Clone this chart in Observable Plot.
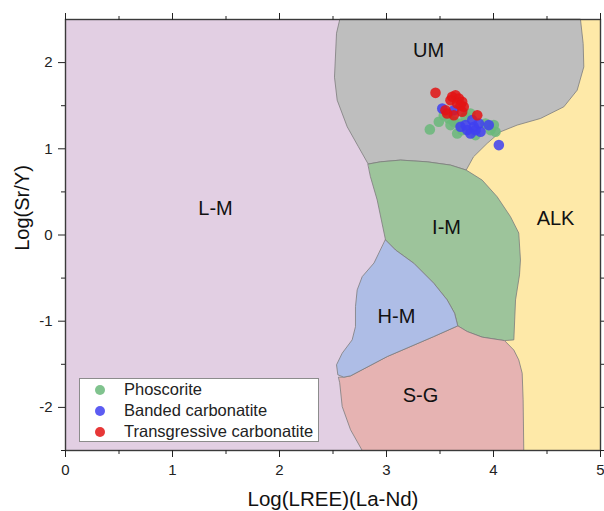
<!DOCTYPE html>
<html><head><meta charset="utf-8">
<script src="https://cdn.jsdelivr.net/npm/d3@7"></script>
<script src="https://cdn.jsdelivr.net/npm/@observablehq/plot@0.6"></script>
<style>
body{margin:0;background:#fff;font-family:"Liberation Sans",Arial,sans-serif;}
#wrap{position:relative;width:604px;height:511px;overflow:hidden;}
#legend{position:absolute;left:79px;top:378px;width:238px;height:62px;border:1px solid #8c8c8c;background:#fff;}
.row{height:21px;display:flex;align-items:center;font-size:16.5px;color:#222;white-space:nowrap;}
.dot{width:10px;height:10px;border-radius:50%;margin-left:15px;margin-right:19px;flex:none;}
</style></head><body><div id="wrap"></div>
<script>
// ---- tick values ----
const xTicks = [0, 1, 2, 3, 4, 5];
const xMinor = [0.5, 1.5, 2.5, 3.5, 4.5];
const yTicks = [-2, -1, 0, 1, 2];
const yMinor = [-2.5, -1.5, -0.5, 0.5, 1.5];

// ---- region boundaries (data units: Log(LREE), Log(Sr/Y)) ----
const umBoundary = [
  [2.563,2.5],[2.533,2.341],[2.514,1.831],[2.539,1.564],[2.633,1.255],[2.738,1.023],[2.829,0.823],
  [2.944,0.849],[3.131,0.869],[3.380,0.849],[3.598,0.811],[3.745,0.753],
  [3.813,0.907],[3.941,1.063],[4.065,1.197],[4.221,1.275],[4.439,1.352],[4.657,1.487],
  [4.782,1.680],[4.844,1.950],[4.838,2.221],[4.813,2.5]
];
const imBoundary = [
  [2.829,0.823],[2.944,0.849],[3.131,0.869],[3.380,0.849],[3.598,0.811],[3.745,0.753],
  [3.894,0.637],[4.034,0.444],[4.159,0.212],[4.236,0.023],[4.252,-0.290],[4.243,-0.463],
  [4.206,-0.753],[4.190,-1.217],[4.103,-1.225],[3.894,-1.185],[3.754,-1.120],[3.666,-1.054],
  [3.636,-0.907],[3.567,-0.753],[3.442,-0.560],[3.255,-0.328],[3.084,-0.174],[2.991,-0.058],
  [2.913,0.406],[2.850,0.676]
];
const hmBoundary = [
  [2.991,-0.058],[3.084,-0.174],[3.255,-0.328],[3.442,-0.560],[3.567,-0.753],[3.636,-0.907],
  [3.666,-1.054],[3.442,-1.178],[3.007,-1.410],[2.664,-1.634],[2.601,-1.649],[2.545,-1.622],
  [2.533,-1.506],[2.586,-1.371],[2.679,-1.217],[2.710,-1.063],[2.710,-0.831],[2.726,-0.637],
  [2.773,-0.483],[2.881,-0.328]
];
const sgBoundary = [
  [2.554,-1.649],[2.601,-1.649],[2.664,-1.634],[3.007,-1.410],[3.442,-1.178],[3.666,-1.054],
  [3.754,-1.120],[3.894,-1.185],[4.103,-1.225],[4.190,-1.335],[4.236,-1.449],[4.268,-1.603],
  [4.277,-1.912],[4.283,-2.5],[2.773,-2.5],[2.664,-2.260],[2.586,-1.990],[2.563,-1.718]
];
const alkUnderlay = [
  [4.0,2.5],[5,2.5],[5,-2.5],[4.1,-2.5],[4.1,-1.2],[3.8,0.6],[3.745,0.753]
];

// ---- region labels ----
const regionNames = ["UM", "L-M", "I-M", "ALK", "H-M", "S-G"];
const regionX = [3.393, 1.402, 3.561, 4.580, 3.093, 3.318];
const regionY = [2.144, 0.301, 0.081, 0.195, -0.950, -1.866];

// ---- samples ----
const phoscorite = [
  [3.405,1.225],[3.489,1.313],[3.536,1.390],[3.582,1.352],[3.629,1.313],[3.676,1.294],
  [3.661,1.178],[3.785,1.410],[3.738,1.371],[3.925,1.294],[3.972,1.217],[4.019,1.197],
  [4.003,1.275],[3.832,1.159],[3.598,1.275],[3.707,1.217]
];
const banded = [
  [3.521,1.468],[3.629,1.448],[3.692,1.255],[3.754,1.217],[3.785,1.178],[3.816,1.255],
  [3.801,1.333],[3.863,1.294],[3.879,1.197],[3.956,1.275],[3.832,1.217],[3.738,1.275],
  [4.050,1.043]
];
const transgressive = [
  [3.458,1.649],[3.614,1.603],[3.645,1.622],[3.676,1.584],[3.598,1.564],[3.707,1.545],
  [3.661,1.526],[3.722,1.487],[3.692,1.506],[3.551,1.448],[3.629,1.390],[3.707,1.429],
  [3.848,1.390],[3.567,1.410]
];
const seriesNames = ["Phoscorite", "Banded carbonatite", "Transgressive carbonatite"];
const seriesColors = ["#6ab87a", "#4040f0", "#e31414"];
const seriesData = [phoscorite, banded, transgressive];

const px = d => d[0], py = d => d[1];
const edge = "#7c7c7c";

const plot = Plot.plot({
  width: 604, height: 511,
  marginLeft: 65, marginRight: 4, marginTop: 19, marginBottom: 61,
  style: {fontFamily: '"Liberation Sans", Arial, sans-serif', color: "#222", background: "transparent"},
  x: {domain: [0, 5]},
  y: {domain: [-2.5, 2.5]},
  marks: [
    Plot.frame({fill: "#e2cfe3", stroke: "none"}),
    Plot.line(alkUnderlay, {x: px, y: py, fill: "#fee9a8", stroke: "none", curve: "linear-closed"}),
    Plot.line(umBoundary, {x: px, y: py, fill: "#bebebe", stroke: edge, strokeWidth: 0.8, curve: "linear-closed"}),
    Plot.line(imBoundary, {x: px, y: py, fill: "#9dc49b", stroke: edge, strokeWidth: 0.8, curve: "linear-closed"}),
    Plot.line(sgBoundary, {x: px, y: py, fill: "#e6b3b2", stroke: edge, strokeWidth: 0.8, curve: "linear-closed"}),
    Plot.line(hmBoundary, {x: px, y: py, fill: "#aebde6", stroke: edge, strokeWidth: 0.8, curve: "linear-closed"}),
    Plot.text(regionNames, {x: (d, i) => regionX[i], y: (d, i) => regionY[i], text: d => d, fontSize: 20, fill: "#111"}),
    ...seriesData.map((s, i) => Plot.dot(s, {x: px, y: py, r: 5.3, fill: seriesColors[i], fillOpacity: 0.85})),
    Plot.frame({stroke: "#3a3a3a", strokeWidth: 1.4}),
    Plot.axisX({ticks: xTicks, tickSize: 7, tickPadding: 7, fontSize: 15, tickFormat: d => String(d), label: null}),
    Plot.axisX({ticks: xMinor, tickSize: 4, tickFormat: () => "", label: null}),
    Plot.axisX({anchor: "top", ticks: xTicks, tickSize: 7, tickFormat: () => "", label: null}),
    Plot.axisX({anchor: "top", ticks: xMinor, tickSize: 4, tickFormat: () => "", label: null}),
    Plot.axisY({ticks: yTicks, tickSize: 7, tickPadding: 6, fontSize: 15, tickFormat: d => String(d), label: null}),
    Plot.axisY({ticks: yMinor, tickSize: 4, tickFormat: () => "", label: null}),
    Plot.axisY({anchor: "right", ticks: yTicks, tickSize: 7, tickFormat: () => "", label: null}),
    Plot.axisY({anchor: "right", ticks: yMinor, tickSize: 4, tickFormat: () => "", label: null}),
    Plot.text(["Log(LREE)(La-Nd)"], {frameAnchor: "bottom", dy: 55, fontSize: 20.5, text: d => d, fill: "#111"}),
    Plot.text(["Log(Sr/Y)"], {frameAnchor: "left", textAnchor: "middle", dx: -43, dy: -27, rotate: -90, fontSize: 20, text: d => d, fill: "#111"})
  ]
});
const wrap = document.getElementById("wrap");
wrap.appendChild(plot);

const legend = document.createElement("div");
legend.id = "legend";
seriesNames.forEach((name, i) => {
  const row = document.createElement("div");
  row.className = "row";
  const dot = document.createElement("span");
  dot.className = "dot";
  dot.style.background = seriesColors[i];
  dot.style.opacity = 0.85;
  const label = document.createElement("span");
  label.textContent = name;
  row.appendChild(dot); row.appendChild(label);
  legend.appendChild(row);
});
wrap.appendChild(legend);
</script></body></html>
